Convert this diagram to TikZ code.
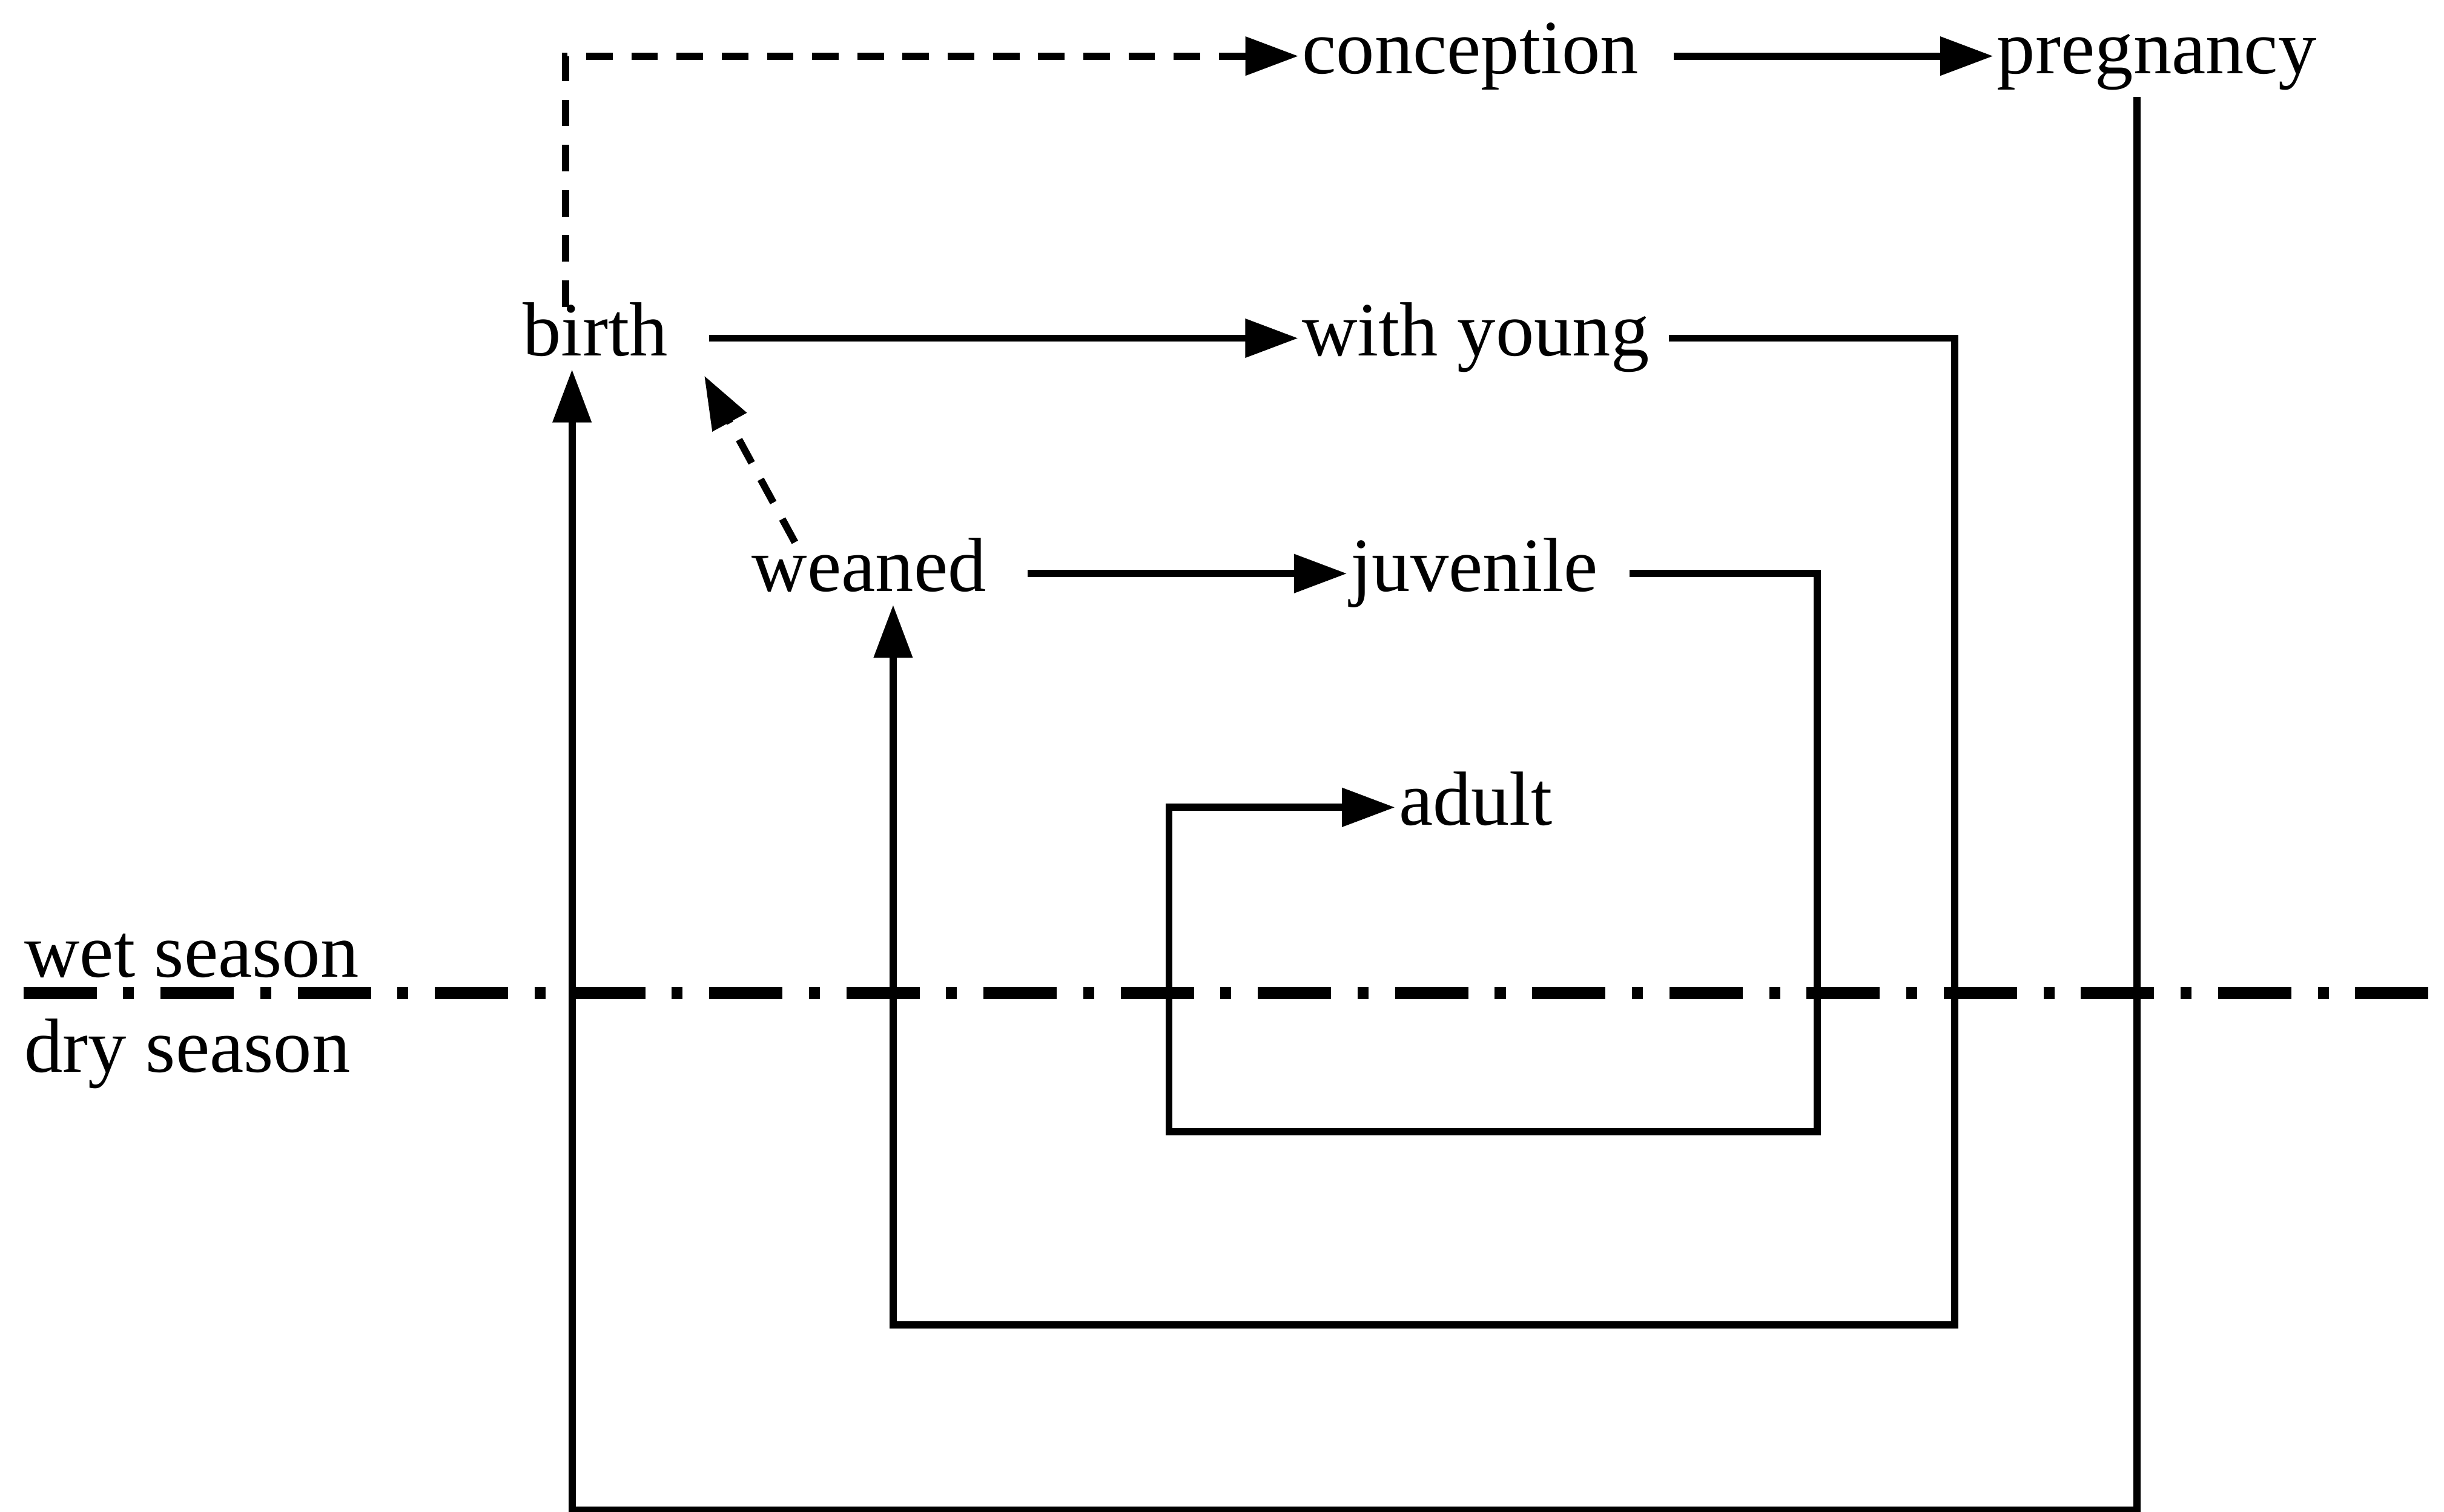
\documentclass[tikz,border=0pt]{standalone}
\usepackage{fontspec}
\setmainfont{Liberation Serif}
\usepackage{tikz}
\usetikzlibrary{arrows.meta,positioning}
\tikzset{stage/.style={anchor=west, inner xsep=0.5pt, inner ysep=0pt,
    text height=1.9ex, text depth=0.5ex, font=\fontsize{14}{17}\selectfont},
  season/.style={anchor=base west, inner sep=0pt, font=\fontsize{14}{17}\selectfont},
  flow/.style={-{Triangle[length=0.34cm,width=0.24cm]}, line width=1.3pt, shorten <=0.2cm},
  maybe/.style={flow, dash pattern=on 0.17cm off 0.12cm},
  divider/.style={line width=2.2pt, dash pattern=on 0.47cm off 0.17cm on 0.07cm off 0.17cm}
}

\begin{document}
\begin{tikzpicture}[node distance=2cm]
  \useasboundingbox (0,0) rectangle (15.68,9.70);

  \node[stage] (conception) at (8.33,9.34)              {conception};
  \node[stage] (pregnancy)  [right=2.25cm of conception] {pregnancy};
  \node[stage] (birth)      at (3.33,7.53)              {birth};
  \node[stage] (young)      [right=4.02cm of birth]      {with young};
  \node[stage] (weaned)     at (4.80,6.02)              {weaned};
  \node[stage] (juvenile)   [right=2.29cm of weaned]     {juvenile};
  \node[stage] (adult)      at (8.95,4.52)              {adult};

  \node[season] (wet) at (0.15,3.43) {wet season};
  \node[season] (dry) at (0.15,2.82) {dry season};

  % corners of the three loops
  \coordinate (dashL)  at (3.63,0);
  \coordinate (outerL) at (3.67,0.01);
  \coordinate (outerR) at (13.71,0.01);
  \coordinate (midL)   at (5.73,1.20);
  \coordinate (midR)   at (12.54,1.20);
  \coordinate (innL)   at (7.50,2.44);
  \coordinate (innR)   at (11.66,2.44);
  \coordinate (rainL)  at (0.15,3.33);
  \coordinate (rainR)  at (15.68,3.33);

  \draw[maybe, shorten <=0pt] (birth.north -| dashL) |- (conception);
  \draw[maybe, shorten <=0pt] ([xshift=0.30cm]weaned.north west)
        -- ([xshift=0.21cm,yshift=-0.04cm]birth.south east);

  \draw[flow] (conception) -- (pregnancy);
  \draw[flow, shorten <=0.24cm] (birth) -- (young);
  \draw[flow, shorten <=0.24cm] (weaned) -- (juvenile);

  \draw[flow, shorten <=0.06cm] (pregnancy.south -| outerR) -- (outerR)
        -- (outerL) -- (birth.south -| outerL);
  \draw[flow, shorten <=0.1cm] (young) -| (midR) -- (midL)
        -- (weaned.south -| midL);
  \draw[flow, shorten <=0.18cm] (juvenile) -| (innR) -- (innL) |- (adult);

  \draw[divider] (rainL) -- (rainR);
\end{tikzpicture}
\end{document}
